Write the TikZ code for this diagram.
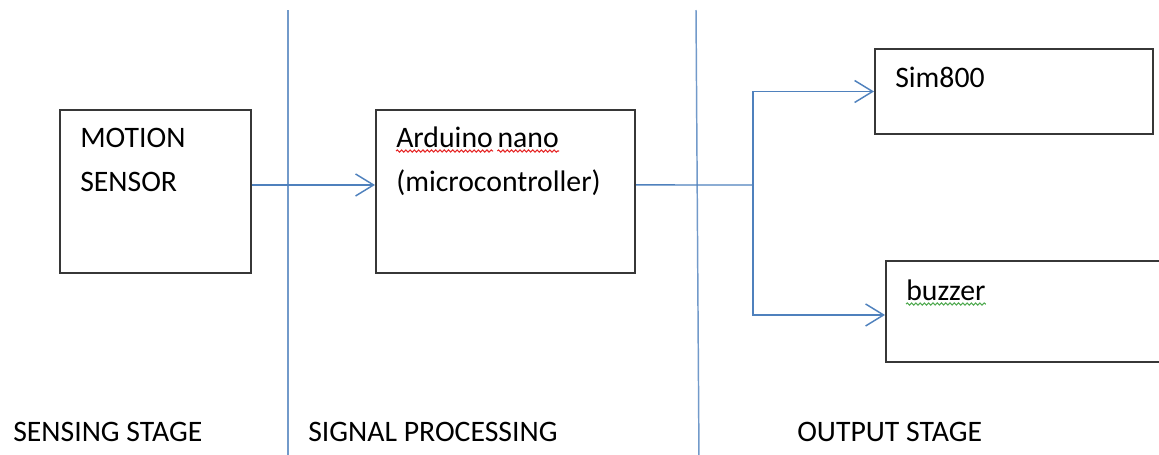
\documentclass[tikz,border=0pt]{standalone}
\usepackage{fontspec}
\setmainfont{Carlito}
\usetikzlibrary{arrows.meta,positioning,calc,decorations.pathmorphing}

\definecolor{wordblue}{RGB}{79,129,189}
\definecolor{boxgray}{RGB}{55,55,55}
\definecolor{spellred}{RGB}{230,40,40}
\definecolor{spellgreen}{RGB}{80,170,80}

\begin{document}
\begin{tikzpicture}[x=0.75pt, y=-0.75pt]
  \tikzset{
    box/.style={rectangle, draw=boxgray, fill=none, line width=1.5pt, inner sep=0pt},
    boxtext/.style={inner sep=0pt, align=left, anchor=north west,
      font=\fontsize{22.3}{33}\selectfont},
    stagetext/.style={inner sep=0pt, anchor=base west,
      font=\fontsize{22.3}{33}\selectfont},
    flow/.style={-{Straight Barb[length=13.5pt, width=16.5pt, line width=1.1pt]},
      line width=1.1pt, draw=wordblue},
    divider/.style={line width=1.1pt, draw=wordblue!80},
    spell/.style={draw=#1, line width=0.8pt, decorate,
      decoration={snake, segment length=3.2pt, amplitude=0.8pt}}
  }
  \useasboundingbox (0,0) rectangle (1159,454);

  % stage dividers
  \coordinate (divAtop) at (288,10);
  \coordinate (divAbot) at (288,460);
  \coordinate (divBtop) at (696,10);
  \coordinate (divBbot) at (699,460);
  \draw[divider] (divAtop) -- (divAbot);
  \draw[divider] (divBtop) -- (divBbot);

  % blocks
  \node[box, minimum width=143.3pt, minimum height=122.3pt] (sensor) at (155.5,191.5) {};
  \node[box, minimum width=194.3pt, minimum height=122.3pt] (mcu) at (505.5,191.5) {};
  \node[box, minimum width=208.5pt, minimum height=63.8pt] (sim) at (1014,91.5) {};
  \node[box, minimum width=213pt, minimum height=75.8pt] (buzzer) at (1028,311.5) {};

  % block texts
  \node[boxtext] (sensortxt) at (80,128) {MOTION\\SENSOR};
  \node[stagetext] (mcuname) at (396,147) {Arduino};
  \node[stagetext, base right=0.32em of mcuname] (mcuname2) {nano};
  \node[stagetext] (mcusub) at (396,191) {(microcontroller)};
  \node[stagetext] (simtxt) at (895,87) {Sim800};
  \node[stagetext] (buzzertxt) at (906,300) {buzzer};

  % spelling marks
  \draw[spell=spellred] ([yshift=-3pt]mcuname.base west) -- ([yshift=-3pt]mcuname.base east);
  \draw[spell=spellred] ([yshift=-3pt]mcuname2.base west) -- ([yshift=-3pt]mcuname2.base east);
  \draw[spell=spellgreen] ([yshift=-3pt]buzzertxt.base west) -- ([yshift=-3pt]buzzertxt.base east);

  % stage names
  \node[stagetext] (sensestage) at (13,441) {SENSING STAGE};
  \node[stagetext] (procstage) at (308,441) {SIGNAL PROCESSING};
  \node[stagetext] (outstage) at (797,441) {OUTPUT STAGE};

  % signal paths
  \coordinate (split) at (753,185);
  \draw[flow] ([yshift=4.9pt]sensor.east) -- ([yshift=4.9pt]mcu.west);
  \draw[flow, -] ([yshift=4.9pt]mcu.east) -- (split);
  \draw[flow] (split) |- (sim.west);
  \draw[flow] (split) |- ([yshift=-2.6pt]buzzer.west);
\end{tikzpicture}
\end{document}
